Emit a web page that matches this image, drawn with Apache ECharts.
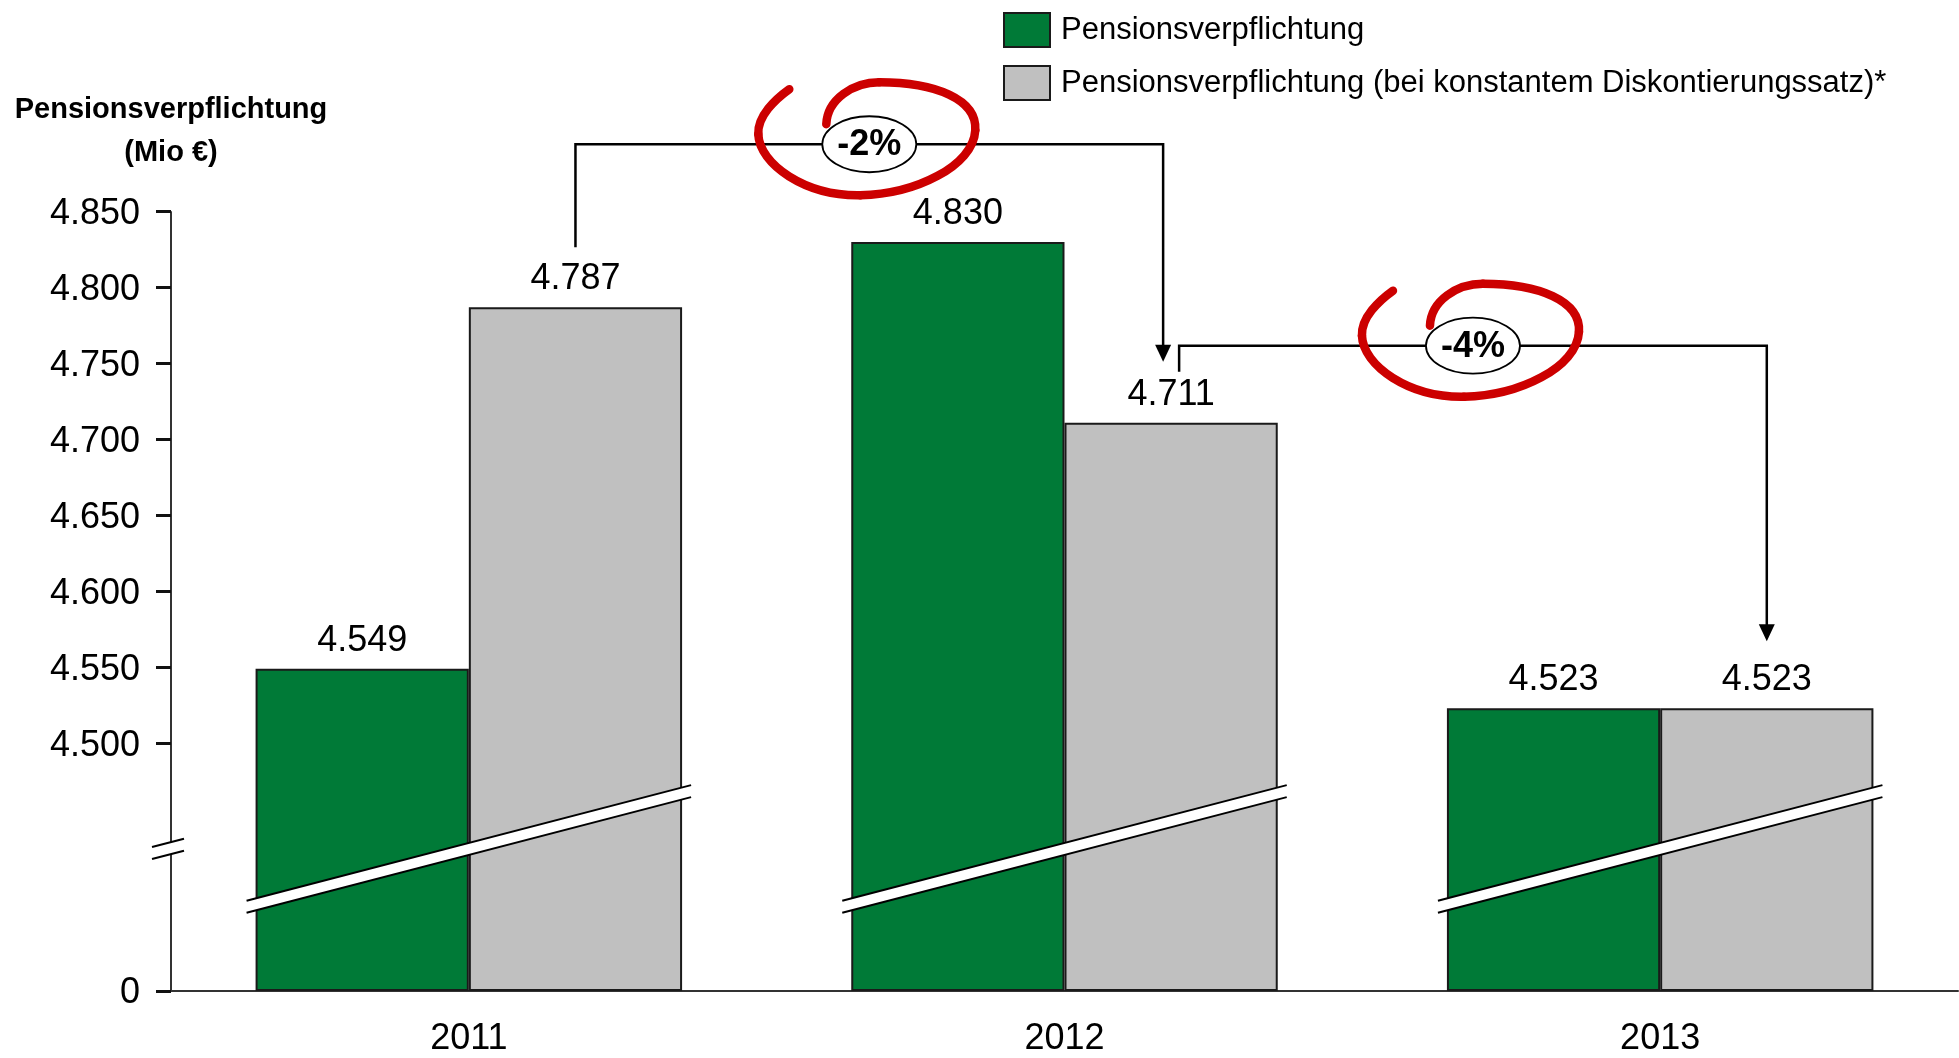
<!DOCTYPE html>
<html>
<head>
<meta charset="utf-8">
<script src="https://cdn.jsdelivr.net/npm/echarts@6/dist/echarts.min.js"></script>
<style>
    html, body { margin: 0; padding: 0; background: #fff; }
    #chart { width: 1959px; height: 1058px; }
</style>
</head>
<body>
<div id="chart"></div>
<script>
var categories = ['2011', '2012', '2013'];
var pension = [4549, 4830, 4523];
var pensionConstant = [4787, 4711, 4523];
var yTicks = [0, 4500, 4550, 4600, 4650, 4700, 4750, 4800, 4850];
var changeLabels = ['-2%', '-4%'];
var seriesNames = ['Pensionsverpflichtung', 'Pensionsverpflichtung (bei konstantem Diskontierungssatz)*'];

// broken axis: 0..breakStart, gap, breakEnd..max
var breakStart = 40, breakEnd = 4484, breakGap = 107;
var catGap = 0.284;
var FONT = '"Liberation Sans", Arial, Helvetica, sans-serif';

function fmt(v) {
    return String(v).replace(/\B(?=(\d{3})+(?!\d))/g, '.');
}

var chart = echarts.init(document.getElementById('chart'));

// white diagonal band with two black edges
function slash(cx, cy, half) {
    var dy = half * 0.26, t = 6;
    return [
        { type: 'polygon', shape: { points: [[cx - half, cy + dy - t], [cx + half, cy - dy - t], [cx + half, cy - dy + t], [cx - half, cy + dy + t]] }, style: { fill: '#fff' } },
        { type: 'line', shape: { x1: cx - half, y1: cy + dy - t, x2: cx + half, y2: cy - dy - t }, style: { stroke: '#000', lineWidth: 2 } },
        { type: 'line', shape: { x1: cx - half, y1: cy + dy + t, x2: cx + half, y2: cy - dy + t }, style: { stroke: '#000', lineWidth: 2 } }
    ];
}

function renderBreak(params, api) {
    var idx = api.value(0);
    var lo = api.coord([idx, breakStart]);
    var hi = api.coord([idx, breakEnd]);
    var cy = (lo[1] + hi[1]) / 2;
    var half = api.size([1, 0])[0] * (1 - catGap) / 2 + 9;
    var children = slash(lo[0], cy, half);
    if (params.dataIndex === 0) {
        var ax = params.coordSys.x;
        // keep the axis line going through the break gap
        children.push({ type: 'line', shape: { x1: ax, y1: lo[1], x2: ax, y2: hi[1] }, style: { stroke: '#333', lineWidth: 2 } });
        children = children.concat(slash(ax - 3, cy, 16));
    }
    return { type: 'group', children: children };
}

chart.setOption({
    animation: false,
    textStyle: { fontFamily: FONT },
    grid: { left: 171, right: 1, top: 211.5, bottom: 67 },
    legend: {
        orient: 'vertical',
        left: 998,
        top: 7,
        icon: 'rect',
        itemWidth: 46,
        itemHeight: 34,
        itemGap: 17,
        data: seriesNames,
        textStyle: { fontSize: 31, color: '#000', padding: [0, 0, 0, 6] }
    },
    xAxis: {
        type: 'category',
        data: categories,
        axisTick: { show: false },
        axisLine: { lineStyle: { color: '#333', width: 2 } },
        axisLabel: { fontSize: 36, color: '#000', margin: 30 }
    },
    yAxis: {
        type: 'value',
        min: 0,
        max: 4850,
        breaks: [{ start: breakStart, end: breakEnd, gap: breakGap }],
        breakArea: { show: false },
        splitLine: { show: false },
        axisLine: { show: true, lineStyle: { color: '#333', width: 2 } },
        axisTick: { show: true, length: 15, customValues: yTicks, lineStyle: { color: '#111', width: 3 } },
        axisLabel: { customValues: yTicks, fontSize: 36, color: '#000', margin: 31, verticalAlign: 'top', lineHeight: 5, formatter: fmt },
        name: 'Pensionsverpflichtung\n(Mio €)',
        nameLocation: 'end',
        nameGap: 37,
        nameTextStyle: { fontSize: 29, fontWeight: 'bold', color: '#000', lineHeight: 43, align: 'center', verticalAlign: 'bottom' }
    },
    series: [
        {
            name: seriesNames[0],
            type: 'bar',
            data: pension,
            barGap: '0%',
            barCategoryGap: (catGap * 100) + '%',
            itemStyle: { color: '#007a37', borderColor: '#1a1a1a', borderWidth: 2 },
            label: { show: true, position: 'top', distance: 10, fontSize: 36, color: '#000', formatter: function (p) { return fmt(p.value); } }
        },
        {
            name: seriesNames[1],
            type: 'bar',
            data: pensionConstant,
            itemStyle: { color: '#c0c0c0', borderColor: '#1a1a1a', borderWidth: 2 },
            label: { show: true, position: 'top', distance: 10, fontSize: 36, color: '#000', formatter: function (p) { return fmt(p.value); } }
        },
        {
            type: 'custom',
            z: 5,
            silent: true,
            renderItem: renderBreak,
            encode: { x: 0, y: 1 },
            data: categories.map(function (c, i) { return [i, breakStart]; })
        }
    ]
});

// hand-drawn red loop, relative to the ellipse centre
var swirlSegments = [
    [-76, -55, -90, -45, -108, -28, -107, -10],
    [-107, -10, -106, 20, -60, 52, -5, 51],
    [-5, 51, 50, 50, 108, 22, 110, -14],
    [110, -14, 112, -45, 70, -62, 14, -62],
    [14, -62, -12, -62, -38, -45, -39, -20]
];

// brackets with arrows, ellipses and red marker circles
function drawNotes() {
    var p = function (i, v) { return chart.convertToPixel({ gridIndex: 0 }, [i, v]); };
    var band = p(1, 0)[0] - p(0, 0)[0];
    var barW = band * (1 - catGap) / 2;
    var gx = function (i) { return p(i, 0)[0] + barW / 2; };
    var gy = function (i) { return p(i, pensionConstant[i])[1]; };
    var els = [];

    var brackets = [
        { xa: gx(0), ya: gy(0) - 60, xb: gx(1) - 8, lvl: gy(0) - 163, tip: gy(1) - 61 },
        { xa: gx(1) + 8, ya: gy(1) - 51, xb: gx(2), lvl: gy(1) - 77, tip: gy(2) - 67 }
    ];
    brackets.forEach(function (b, k) {
        els.push({ type: 'polyline', shape: { points: [[b.xa, b.ya], [b.xa, b.lvl], [b.xb, b.lvl], [b.xb, b.tip - 14]] }, style: { stroke: '#000', lineWidth: 2.5, fill: null }, z: 10 });
        els.push({ type: 'polygon', shape: { points: [[b.xb - 8, b.tip - 17], [b.xb + 8, b.tip - 17], [b.xb, b.tip]] }, style: { fill: '#000' }, z: 10 });
        var cx = (b.xa + b.xb) / 2, cy = b.lvl;
        els.push({ type: 'ellipse', shape: { cx: cx, cy: cy, rx: 47, ry: 28 }, style: { fill: '#fff', stroke: '#000', lineWidth: 1.8 }, z: 11 });
        els.push({ type: 'text', x: cx, y: cy + 1, style: { text: changeLabels[k], font: 'bold 36px ' + FONT, fill: '#000', align: 'center', verticalAlign: 'middle' }, z: 12 });
        swirlSegments.forEach(function (s) {
            els.push({
                type: 'bezierCurve',
                x: cx - 4,
                y: cy,
                shape: { x1: s[0], y1: s[1], cpx1: s[2], cpy1: s[3], cpx2: s[4], cpy2: s[5], x2: s[6], y2: s[7] },
                style: { fill: null, stroke: '#cc0000', lineWidth: 8.5, lineCap: 'round' },
                z: 13
            });
        });
    });
    chart.setOption({ graphic: els });
}
drawNotes();
</script>
</body>
</html>
